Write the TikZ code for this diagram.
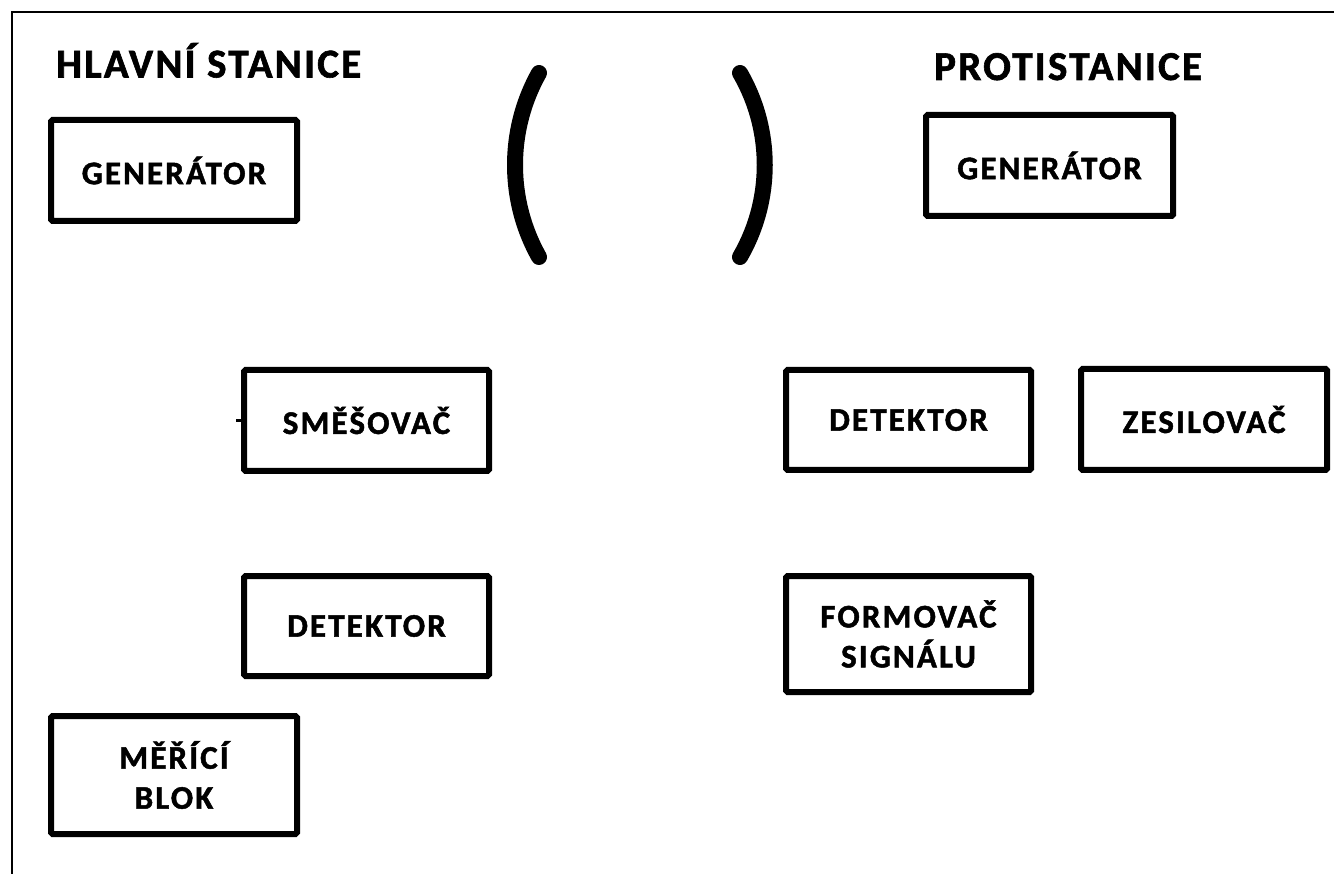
\documentclass[tikz,border=0pt]{standalone}
\usepackage{fontspec}
\setmainfont{Carlito}
\newfontfamily\boxfont{Carlito}[LetterSpace=6.5,FakeBold=1.5]
\newfontfamily\headfont{Carlito}[LetterSpace=5.5,FakeBold=1.5]
\begin{document}
\begin{tikzpicture}[x=1pt,y=-1pt,
  blk/.style={draw, line width=6pt, rounded corners=1.5pt, align=center,
    font=\boxfont\fontsize{33}{40}\selectfont\bfseries, inner sep=0pt},
  head/.style={font=\headfont\fontsize{41}{44}\selectfont\bfseries, inner sep=0pt, anchor=base west},
  paren/.style={line width=16pt, line cap=round}]
\useasboundingbox (0,0) rectangle (1334,874);
\fill[white] (0,0) rectangle (1334,874);
\draw[line width=2pt] (12,874) -- (12,12) -- (1334,12);
% headings
\node[head] (hs) at (56,77.5) {HLAVNÍ STANICE};
\node[head] (ps) at (934,80) {PROTISTANICE};
% boxes
\node[blk, minimum width=246pt, minimum height=101pt] (gen1) at (174,170.5) {GENERÁTOR};
\node[blk, minimum width=247pt, minimum height=101pt] (gen2) at (1049.5,165.5) {GENERÁTOR};
\node[blk, minimum width=245pt, minimum height=101pt] (mix) at (366.5,420.5) {SMĚŠOVAČ};
\node[blk, minimum width=245pt, minimum height=100pt] (det1) at (366.5,626) {DETEKTOR};
\node[blk, minimum width=246pt, minimum height=118pt] (meas) at (174,775) {MĚŘÍCÍ\\BLOK};
\node[blk, minimum width=245pt, minimum height=100pt] (det2) at (908.5,420) {DETEKTOR};
\node[blk, minimum width=246pt, minimum height=101pt] (amp) at (1204,419.5) {ZESILOVAČ};
\node[blk, minimum width=245pt, minimum height=116pt] (form) at (908.5,634) {FORMOVAČ\\SIGNÁLU};
% small stub on mixer
\draw[line width=3pt] (mix.west) -- ++(-5,0);
% parentheses
\draw[paren] (539,73) .. controls (507,130) and (507,200) .. (539,257);
\draw[paren] (740,73) .. controls (773,130) and (773,200) .. (740,257);
\end{tikzpicture}
\end{document}
